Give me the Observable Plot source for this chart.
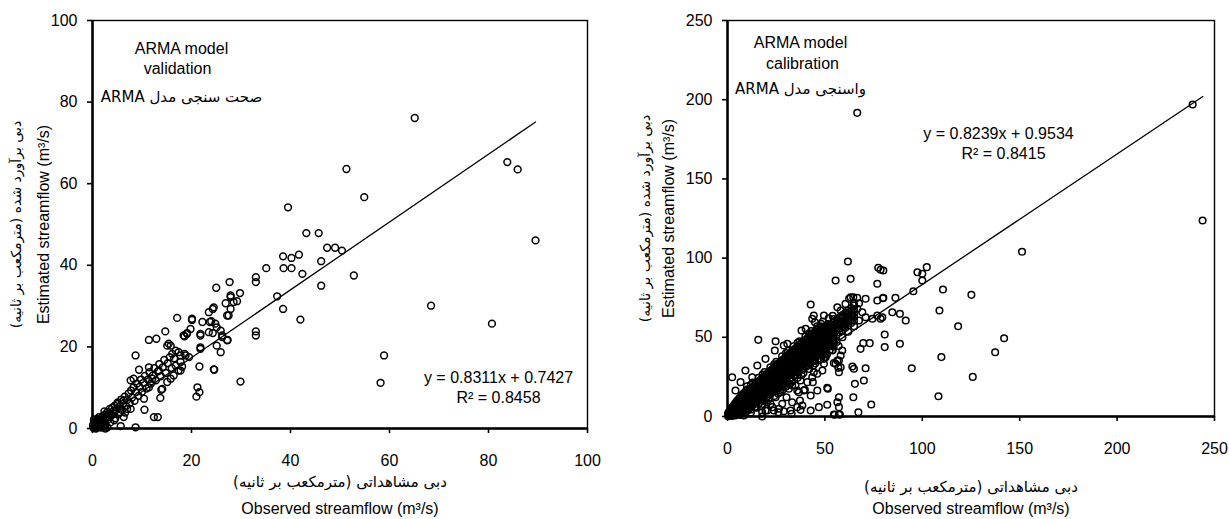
<!DOCTYPE html>
<html><head><meta charset="utf-8">
<script src="https://cdn.jsdelivr.net/npm/d3@7"></script>
<script src="https://cdn.jsdelivr.net/npm/@observablehq/plot@0.6"></script>
<style>
body{margin:0;background:#fff;}
#wrap{position:relative;width:1229px;height:519px;overflow:hidden;background:#fff;}
#left{position:absolute;left:0;top:0;}
#right{position:absolute;left:610px;top:0;}
</style></head><body><div id="wrap"><div id="left"></div><div id="right"></div></div>
<script>
// ---------- DATA ----------
const validationTicksX = [0, 20, 40, 60, 80, 100];
const validationTicksY = [0, 20, 40, 60, 80, 100];
const calibrationTicksX = [0, 50, 100, 150, 200, 250];
const calibrationTicksY = [0, 50, 100, 150, 200, 250];

const validationFit = {slope: 0.8311, intercept: 0.7427, xEnd: 89.5};
const calibrationFit = {slope: 0.8239, intercept: 0.9534, xEnd: 244};

const validationLabels = {title1: "ARMA model", title2: "validation", fa: "صحت سنجی مدل ARMA",
  eq: "y = 0.8311x + 0.7427", r2: "R² = 0.8458"};
const calibrationLabels = {title1: "ARMA model", title2: "calibration", fa: "واسنجی مدل ARMA",
  eq: "y = 0.8239x + 0.9534", r2: "R² = 0.8415"};
const axisTitles = {xFa: "دبی مشاهداتی (مترمکعب بر ثانیه)", xEn: "Observed streamflow (m³/s)",
  yFa: "دبی برآورد شده (مترمکعب بر ثانیه)", yEn: "Estimated streamflow (m³/s)"};

// validation: [observed, estimated]
const validationPoints = [
 [65.1,76.1],[83.8,65.3],[85.9,63.5],[89.5,46.1],[51.3,63.6],[54.9,56.7],[39.5,54.2],[43.2,47.9],[45.7,47.9],
 [47.4,44.3],[49.0,44.3],[50.4,43.6],[38.5,42.2],[40.2,41.8],[41.7,42.6],[38.6,39.3],[40.2,39.3],[42.4,37.9],
 [46.2,41.0],[46.2,35.0],[52.8,37.5],[38.5,29.3],[42.0,26.7],[68.4,30.1],[80.7,25.7],[58.9,17.9],[58.2,11.2],
 [35.1,39.3],[33.0,37.1],[33.0,35.9],[37.3,32.4],[33.0,23.8],[33.0,22.8],[29.9,11.5],
 [27.7,35.9],[25.0,34.5],[27.9,32.6],[26.9,30.7],[28.5,31.0],[29.2,31.2],[29.8,33.2],[27.9,29.3],[27.5,27.7],
 [24.3,29.3],[23.5,28.5],[22.2,26.1],[24.0,26.3],[24.8,25.7],[25.1,24.8],[25.9,24.0],[26.2,22.8],[23.5,23.6],
 [24.3,23.4],[21.8,22.8],[27.3,21.7],[20.1,26.6],[17.1,27.1],[19.8,24.4],[19.1,23.4],[18.4,22.8],[14.7,23.8],
 [11.4,21.7],[12.9,22.0],[25.1,20.3],[25.9,18.7],[21.8,19.5],[21.6,15.2],[24.6,14.4],[21.2,10.1],[21.6,8.9],
 [21.0,7.8],[12.4,2.8],[13.2,2.8],[8.7,17.9],[9.4,14.4],[11.4,15.0],[8.7,0.3],[5.7,0.6],[2.6,0.0],[10.5,4.6],
 [13.9,9.5],[13.7,7.5],[15.8,12.2],[16.4,13.0],[17.8,14.2],[18.1,15.2],[18.6,18.3],[17.8,17.9],[19.5,17.5],
 [15.8,20.3],[15.1,20.3],[10.4,7.3],[14.1,9.7],[15.1,11.4],[12.1,12.2],[11.4,10.1],[13.4,14.2],[7.7,11.8],
 [8.3,12.2],[6.3,6.9],[7.0,4.8],[7.7,4.8],[5.0,6.0],[4.3,4.4],[6.3,2.8],[2.6,2.4],[1.6,1.5],[3.0,0.3],
 [16.1,18.3],[16.8,19.1],[17.4,18.7],[18.8,17.9],[15.4,20.8],[17.8,16.3],[16.8,15.4],[17.4,14.2],[23.7,26.1],
 [24.5,29.7],[27.2,21.6],[27.2,27.7],[27.9,32.2],[26.2,22.4],[21.8,23.2],[21.8,19.9],[24.5,14.5],[19.1,23.2],
 [18.6,22.6],[20.1,26.9],
 [0.2,0.1],[0.3,0.5],[0.5,0.2],[0.6,0.9],[0.8,0.4],[0.9,1.3],[1.0,0.6],[1.1,1.8],[1.2,1.0],[1.4,0.3],[1.5,2.2],
 [1.7,1.2],[1.8,2.6],[2.0,1.6],[2.1,3.0],[2.3,2.0],[2.5,3.4],[2.6,1.1],[2.8,2.8],[3.0,4.0],[3.1,2.2],[3.3,3.5],
 [3.5,4.8],[3.6,1.5],[3.8,3.2],[4.0,5.1],[4.2,3.8],[4.5,5.6],[4.6,2.5],[4.8,4.6],[5.1,6.4],[5.3,3.6],[5.5,5.4],
 [5.8,7.1],[6.0,4.5],[6.2,6.0],[6.5,7.8],[6.8,5.5],[7.0,7.0],[7.3,8.6],[7.5,6.2],[7.8,9.3],[8.0,7.6],[8.3,10.1],
 [8.5,6.8],[8.8,8.9],[9.0,11.0],[9.3,8.0],[9.5,10.2],[9.8,12.0],[10.0,9.0],[10.3,11.2],[10.6,12.9],[10.9,9.8],
 [11.2,12.0],[11.5,13.8],[11.8,11.0],[12.2,13.0],[12.5,14.8],[12.8,11.8],[13.2,14.0],[13.5,15.8],[13.8,12.8],
 [14.2,15.0],[14.5,16.8],[14.8,13.6],[15.2,16.0],[15.6,17.5],[16.0,14.8],[16.5,17.2],[0.4,1.6],[1.3,2.8],
 [2.2,0.5],[0.1,0.8],[0.7,0.0],[1.9,0.2],[3.4,2.8],[4.4,2.0],[5.6,4.0],[6.6,3.9],[0.3,2.2],[0.5,1.3],[1.0,2.3],
 [2.4,4.2],[1.5,0.8]
];

// calibration: scattered points [observed, estimated]
const calibrationPoints = [
 [238.8,197.0],[243.9,123.7],[151.2,104.0],[66.6,191.7],
 [97.5,91.1],[100.0,90.1],[102.3,94.3],[100.0,85.9],[95.4,79.1],[110.6,80.2],[125.2,76.8],[80.0,74.9],[86.2,74.9],
 [78.6,92.6],[80.0,92.2],[78.6,61.7],[88.5,64.8],[91.5,60.6],[108.8,66.9],[118.4,57.0],[80.7,51.8],[80.7,43.8],
 [88.5,45.9],[142.0,49.4],[137.4,40.6],[109.8,37.5],[94.6,30.5],[125.9,25.0],[108.3,12.8],
 [61.8,97.9],[55.5,85.9],[63.2,86.9],[77.4,93.9],[76.9,83.8],[79.8,74.7],[76.9,73.2],[42.7,70.7],[70.9,74.3],
 [67.5,71.5],[64.6,75.3],[62.4,74.3],[15.8,48.4],[69.7,46.3],[73.0,46.3],[68.3,42.7],[64.1,31.6],[64.9,30.1],
 [70.9,30.5],[70.0,22.7],[65.4,20.6],[64.6,12.2],[73.8,7.6],[67.2,2.7],[57.2,12.2],[56.4,9.0],[57.2,5.9],
 [54.6,1.3],[57.2,1.3],[51.2,7.4],[46.9,5.9],[42.7,3.8],[37.5,4.2],[51.2,18.1],[48.7,29.0],[49.5,33.3],
 [43.8,21.7],[46.1,16.4],[39.2,16.4],[35.8,16.4],[33.2,19.6],[30.3,12.2],[28.1,8.0],[26.4,4.9],[32.4,3.8],
 [19.5,36.4],[15.3,32.2],[12.7,24.8],[2.4,24.8],[6.7,21.7],[24.3,41.7],[28.9,44.8],[30.7,45.9],[44.3,63.8],
 [44.9,59.5],[40.1,55.4],[38.0,54.3],[24.7,47.5],[43.5,61.7],[49.5,63.8],[66.6,74.9],[56.9,30.7],[57.2,28.0],
 [58.1,38.5],[56.4,35.4],[54.6,33.7],[49.5,36.4],[46.9,35.4],[44.3,28.0],[43.5,24.8],[46.1,27.0],[42.7,13.3],
 [39.7,16.9],[36.6,15.3],[41.0,21.7],[37.5,22.7],[33.2,22.7],[34.9,19.6],[31.5,17.5],[28.9,18.5],[27.2,15.3],
 [37.2,10.1],[35.8,5.9],[32.9,1.7],[28.9,3.3],[26.1,2.7],[23.8,3.8],[22.1,8.0],[20.4,3.8],[17.8,2.7],[17.8,0.0],
 [8.4,0.6],[51.5,17.5],[57.7,1.3],[55.0,1.1],[21.2,16.4],[24.7,12.2],[17.8,10.1],[14.4,5.9],[19.5,3.8],
 [28.1,16.4],[23.0,5.9],[33.2,9.0],[38.4,6.9],[4.1,16.4],[9.2,29.0],[7.6,12.2],
 [56.4,69.0],[58.1,66.9],[60.6,71.1],[63.2,75.3],[64.9,71.1],[66.6,68.0],[69.2,65.8],[70.9,62.7],[58.9,62.7],
 [61.5,60.6],[64.1,63.8],[67.5,60.6],[57.2,59.5],[55.5,56.4],[59.8,56.4],[74.4,61.7],[76.9,63.8],[79.5,62.7],
 [84.6,65.8],[50.4,37.4],[53.8,41.7],[57.2,35.4],[58.1,31.1],[55.5,33.3],[58.9,41.7]
];

// calibration: edges of the dense band [observed, estimated]
const calibrationBandEdges = [
 [10,19],[13,21.5],[16,24.5],[19,28],[22,31],[25,34.5],[28,38],[31,41.5],[34,44.5],[37,47.5],[40,50.5],
 [43,54],[46,57],[49,60],[52,62],[12,20],[18,26.5],[24,33],[30,40],[36,46.5],[42,52.5],[48,58.5],[54,63.5],
 [12,2.5],[15,5.5],[18,8],[21,10.5],[24,13],[27,16.5],[30,19],[33,22],[36,24.5],[39,27.5],[42,30],[45,33.5],
 [48,36.5],[51,39],[54,42],[57,44.5],[20,9],[26,14.5],[32,20.5],[38,26],[44,32],[50,37.5]
];

// calibration: dense band read column by column [observed, [estimated...]]
const calibrationBand = [
 [0.3,[0.2,1.0,2.0]],[0.8,[0.5,1.5,3.0]],[1.3,[0.3,1.2,2.4,4.0]],[1.9,[0.8,2.0,3.3,5.0]],
 [2.5,[0.4,1.6,2.9,4.2,6.0]],[3.2,[1.0,2.4,3.8,5.3,7.0]],[3.9,[0.6,2.0,3.5,5.0,6.6,8.2]],
 [4.6,[1.5,3.0,4.6,6.2,7.8,9.5]],[5.4,[2.2,3.8,5.4,7.0,8.8,10.5]],[6.2,[1.0,3.0,4.7,6.4,8.1,9.8,11.6]],
 [7.0,[2.0,3.9,5.6,7.4,9.2,11.0,12.8]],[7.8,[3.0,4.9,6.6,8.4,10.2,12.0,14.0]],
 [8.6,[2.2,4.0,5.8,7.6,9.4,11.2,13.0,15.0]],[9.5,[3.0,5.0,6.8,8.6,10.4,12.3,14.2,16.2]],
 [10.4,[4.0,6.0,7.8,9.7,11.5,13.4,15.3,17.2]],[11.3,[5.0,7.0,8.9,10.8,12.6,14.5,16.4]],
 [12.2,[4.4,6.2,8.0,9.9,11.8,13.7,15.6,17.6]],[13.1,[7.2,9.1,11.0,12.9,14.8,16.7,18.6]],
 [14.0,[6.0,8.2,10.2,12.0,14.0,16.0,18.0,19.8]],[15.0,[9.2,11.2,13.2,15.2,17.2,19.2,21.0]],
 [16.0,[8.0,10.2,12.3,14.3,16.3,18.3,20.3,22.2]],[17.0,[11.2,13.3,15.4,17.4,19.4,21.4,23.2]],
 [18.0,[10.0,12.3,14.4,16.5,18.5,20.5,22.5,24.4]],[19.0,[13.2,15.4,17.5,19.6,21.6,23.6,25.5]],
 [20.0,[12.0,14.3,16.5,18.6,20.7,22.7,24.7,26.6]],[21.0,[15.2,17.5,19.7,21.8,23.8,25.8,27.7]],
 [22.0,[13.8,16.3,18.6,20.8,22.9,24.9,26.9,28.8]],[23.0,[17.3,19.6,21.9,24.0,26.0,28.0,30.0]],
 [24.0,[15.8,18.4,20.7,23.0,25.1,27.1,29.1,31.0]],[25.0,[19.4,21.8,24.1,26.2,28.2,30.2,32.2]],
 [26.0,[17.8,20.5,22.9,25.2,27.3,29.3,31.3,33.3]],[27.0,[21.5,24.0,26.3,28.4,30.4,32.4,34.3]],
 [28.0,[19.8,22.6,25.0,27.3,29.5,31.5,33.5,35.5]],[29.0,[23.6,26.1,28.4,30.6,32.6,34.6,36.5]],
 [30.0,[21.8,24.7,27.2,29.5,31.7,33.7,35.7,37.6]],[31.0,[25.7,28.2,30.6,32.8,34.8,36.8,38.7]],
 [32.0,[23.8,26.8,29.3,31.6,33.8,35.9,37.9,39.8]],[33.0,[27.8,30.3,32.7,34.9,37.0,39.0,41.0]],
 [34.0,[25.9,28.9,31.4,33.7,35.9,38.0,40.0,42.0]],[35.0,[29.9,32.4,34.8,37.0,39.1,41.1,43.1]],
 [36.0,[28.0,31.0,33.5,35.8,38.0,40.1,42.1,44.1]],[37.0,[32.0,34.5,36.9,39.1,41.2,43.2,45.2]],
 [38.0,[30.0,33.0,35.6,37.9,40.1,42.2,44.2,46.2]],[39.0,[34.0,36.6,39.0,41.2,43.3,45.3,47.3]],
 [40.0,[32.0,35.0,37.6,40.0,42.2,44.3,46.3,48.3]],[41.0,[36.0,38.6,41.0,43.2,45.3,47.4,49.4]],
 [42.0,[34.0,37.1,39.7,42.1,44.3,46.4,48.4,50.4]],[43.0,[38.1,40.7,43.1,45.3,47.4,49.5,51.5]],
 [44.0,[36.0,39.1,41.8,44.2,46.4,48.5,50.6,52.6]],[45.0,[40.1,42.8,45.2,47.4,49.5,51.6,53.6]],
 [46.0,[38.0,41.2,43.9,46.3,48.5,50.6,52.7,54.7]],[47.0,[42.2,44.9,47.3,49.5,51.6,53.7,55.8]],
 [48.0,[40.0,43.2,46.0,48.4,50.6,52.7,54.8,56.8]],[49.0,[44.2,47.0,49.4,51.6,53.7,55.8]],
 [50.0,[42.0,45.3,48.0,50.5,52.7,54.8,56.9]],[51.5,[47.0,49.6,52.0,54.2,56.3,58.4]],
 [53.0,[44.5,48.4,51.2,53.6,55.8,58.0]],[54.5,[50.0,52.7,55.1,57.3,59.5,61.6]],
 [56.0,[47.0,51.5,54.2,56.6,58.8,61.0]],[57.5,[53.0,55.6,58.0,60.3,62.5]],
 [59.0,[50.0,54.5,57.2,59.6,61.8,64.0]],[60.5,[56.0,58.6,61.0,63.3,65.5]],
 [62.0,[53.5,57.6,60.1,62.5,64.8,67.0]],[63.5,[59.0,61.5,64.0,66.3,68.5]],[65.0,[57.0,60.5,63.0,65.4,67.7,70.0]]
];

// calibration: solid core of the band, read between the columns above
const calibrationBandCore = [
 [10.9,[7,9.5,12,14.5]],[12.7,[8.5,11,13.5,16]],[14.5,[10,12.5,15,17.5]],[16.5,[11.5,14,16.5,19,21.5]],
 [18.5,[13,15.5,18,20.5,23]],[20.5,[14.5,17,19.5,22,24.5]],[22.5,[16,18.5,21,23.5,26]],
 [24.5,[17.5,20,22.5,25,27.5,30]],[26.5,[19,21.5,24,26.5,29,31.5]],[28.5,[21,23.5,26,28.5,31,33.5]],
 [30.5,[22.5,25,27.5,30,32.5,35]],[32.5,[24.5,27,29.5,32,34.5,37]],[34.5,[26,28.5,31,33.5,36,38.5]],
 [36.5,[28,30.5,33,35.5,38,40.5]],[38.5,[29.5,32,34.5,37,39.5,42]],[40.5,[31.5,34,36.5,39,41.5,44]],
 [42.5,[33,35.5,38,40.5,43,45.5,48]],[44.5,[35,37.5,40,42.5,45,47.5,50]],[46.5,[36.5,39,41.5,44,46.5,49,51.5]],
 [48.5,[38.5,41,43.5,46,48.5,51,53.5]],[50.5,[40,42.5,45,47.5,50,52.5,55]],[52.5,[42,44.5,47,49.5,52,54.5,57]],
 [54.5,[44,46.5,49,51.5,54,56.5]]
];

// ---------- CHART ----------
const LATIN = "'Liberation Sans', Arial, Helvetica, sans-serif";
const FA = "'DejaVu Sans', sans-serif";
const rtl = s => "\u202B" + s + "\u202C";

function label(text, opts) {
  return Plot.text([text], {text: d => d, textAnchor: "middle", lineAnchor: "middle", fill: "#000", ...opts});
}

function makeChart(o) {
  const fit = [0, o.fit.xEnd].map(x => ({x, y: o.fit.slope * x + o.fit.intercept}));
  const L = o.labels;
  return Plot.plot({
    width: o.width, height: 519,
    marginLeft: o.ml, marginRight: o.mr, marginTop: 20, marginBottom: o.mb,
    x: {domain: [o.xTicks[0], o.xTicks[o.xTicks.length - 1]]},
    y: {domain: [o.yTicks[0], o.yTicks[o.yTicks.length - 1]]},
    style: {fontFamily: LATIN, fontSize: "16px", color: "#000", background: "#fff", overflow: "visible"},
    marks: [
      Plot.dot(o.points, {x: d => d[0], y: d => d[1], r: o.r, stroke: "#000", strokeWidth: 1.5, fill: "none"}),
      Plot.line(fit, {x: "x", y: "y", stroke: "#000", strokeWidth: 1.3}),
      Plot.frame({stroke: "#000", strokeWidth: 1.4}),
      Plot.ruleX([o.xTicks[0]], {stroke: "#000", strokeWidth: 2.5}),
      Plot.ruleY([o.yTicks[0]], {stroke: "#000", strokeWidth: 2.5}),
      Plot.axisX({ticks: o.xTicks, tickSize: 5, tickPadding: 21, label: null, fontSize: 16, strokeWidth: 1.6}),
      Plot.axisY({ticks: o.yTicks, tickSize: 5, tickPadding: 10, label: null, fontSize: 16, strokeWidth: 1.6}),
      label(L.title1, {frameAnchor: "top-left", dx: o.t.x1, dy: o.t.y1, fontSize: 16, fontFamily: LATIN}),
      label(L.title2, {frameAnchor: "top-left", dx: o.t.x2, dy: o.t.y2, fontSize: 16, fontFamily: LATIN}),
      label(rtl(L.fa), {frameAnchor: "top-left", dx: o.t.x3, dy: o.t.y3, fontSize: 15, fontFamily: FA}),
      label(L.eq, {frameAnchor: "top-left", dx: o.t.xe, dy: o.t.ye, fontSize: 16, fontFamily: LATIN}),
      label(L.r2, {frameAnchor: "top-left", dx: o.t.xr, dy: o.t.yr, fontSize: 16, fontFamily: LATIN}),
      label(rtl(axisTitles.xFa), {frameAnchor: "bottom", dy: o.xt.fa, fontSize: 15, fontFamily: FA}),
      label(axisTitles.xEn, {frameAnchor: "bottom", dy: o.xt.en, fontSize: 16, fontFamily: LATIN}),
      label(rtl(axisTitles.yFa), {frameAnchor: "left", dx: o.yt.fa, rotate: -90, fontSize: 14, fontFamily: FA}),
      label(axisTitles.yEn, {frameAnchor: "left", dx: o.yt.en, rotate: -90, fontSize: 16, fontFamily: LATIN})
    ]
  });
}

const expandColumns = rows => rows.flatMap(([x, ys]) => ys.map(y => [x, y]));
const calibrationAll = calibrationPoints
  .concat(calibrationBandEdges)
  .concat(expandColumns(calibrationBand))
  .concat(expandColumns(calibrationBandCore));

document.getElementById("left").append(makeChart({
  width: 610, ml: 92, mr: 23, mb: 91, r: 3.4,
  xTicks: validationTicksX, yTicks: validationTicksY, points: validationPoints, fit: validationFit,
  labels: validationLabels,
  t: {x1: 89, y1: 28, x2: 85, y2: 48, x3: 89, y3: 77, xe: 406, ye: 357, xr: 406, yr: 377},
  xt: {fa: 54, en: 80}, yt: {fa: -76, en: -49}
}));

document.getElementById("right").append(makeChart({
  width: 619, ml: 117, mr: 15, mb: 103, r: 3.3,
  xTicks: calibrationTicksX, yTicks: calibrationTicksY, points: calibrationAll, fit: calibrationFit,
  labels: calibrationLabels,
  t: {x1: 73, y1: 22, x2: 75, y2: 43, x3: 73, y3: 69, xe: 271, ye: 113, xr: 276, yr: 133},
  xt: {fa: 71, en: 92}, yt: {fa: -82, en: -59}
}));
</script></body></html>
